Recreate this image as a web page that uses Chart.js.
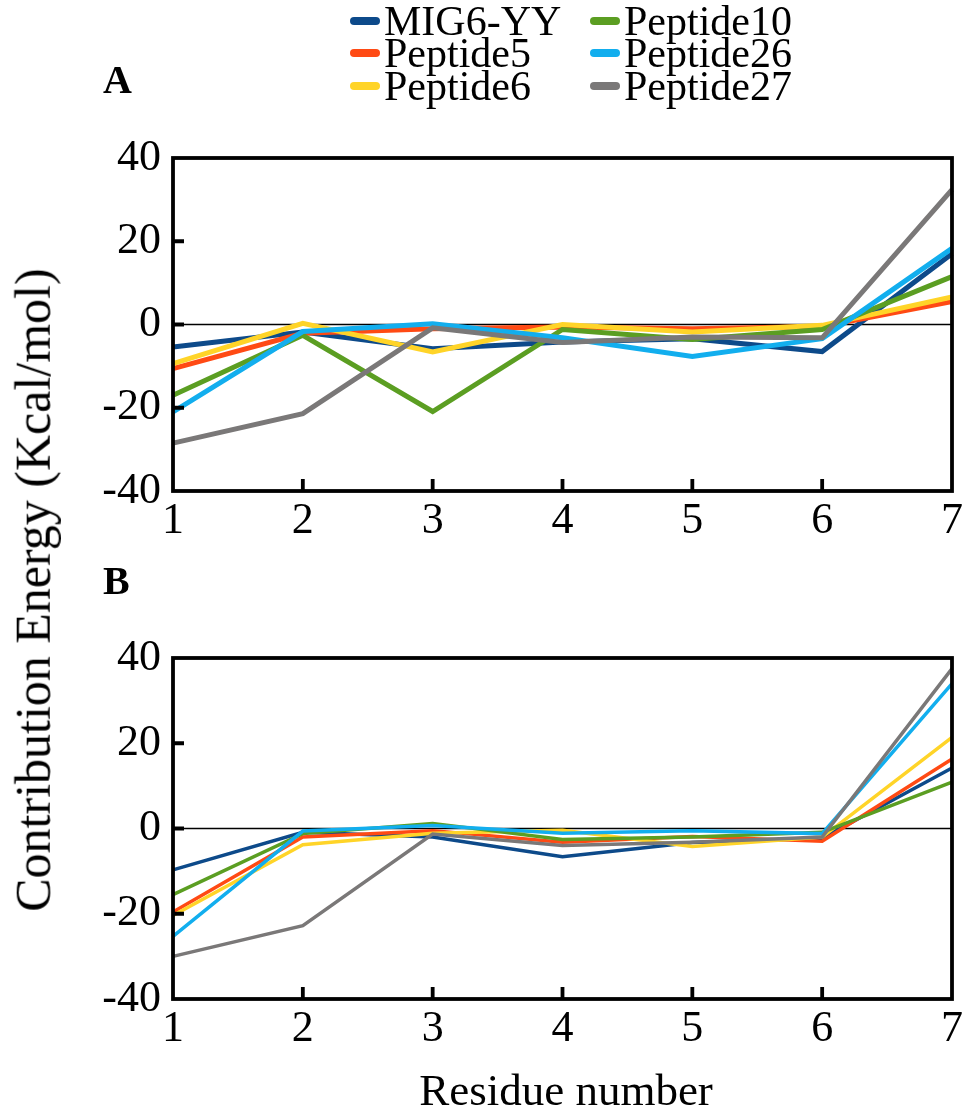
<!DOCTYPE html>
<html>
<head>
<meta charset="utf-8">
<script src="https://cdn.jsdelivr.net/npm/chart.js@4/dist/chart.umd.min.js"></script>
<style>
  html,body{margin:0;padding:0;background:#fff;}
  #wrap{position:relative;width:967px;height:1114px;overflow:hidden;font-family:"Liberation Serif","Times New Roman",serif;color:#000;}
  canvas{position:absolute;left:0;}
  .leg{position:absolute;font-size:42px;line-height:42px;white-space:nowrap;display:flex;align-items:center;}
  .leg span.mk{display:inline-block;width:30px;height:8px;border-radius:4px;margin-right:4px;}
  .panel{position:absolute;font-size:40px;font-weight:bold;line-height:40px;}
  #ytitle{position:absolute;font-size:50px;line-height:50px;white-space:nowrap;transform-origin:center center;}
  #xtitle{position:absolute;font-size:45px;line-height:45px;white-space:nowrap;}
</style>
</head>
<body>
<div id="wrap">
  <canvas id="cA" width="967" height="560" style="top:0"></canvas>
  <canvas id="cB" width="967" height="614" style="top:500px"></canvas>
  <div class="panel" style="left:103px;top:60px;">A</div>
  <div class="panel" style="left:103px;top:561px;">B</div>
  <div id="legend"></div>
  <div id="ytitle">Contribution Energy (Kcal/mol)</div>
  <div id="xtitle">Residue number</div>
</div>
<script>
// ---- data ----
const categories = ['1','2','3','4','5','6','7'];
const seriesNames = ['MIG6-YY','Peptide5','Peptide6','Peptide10','Peptide26','Peptide27'];
const seriesColors = ['#0D4A8A','#FF4A14','#FFD428','#5B9E22','#12AEEE','#7A7878'];
const yTickMin = -40, yTickMax = 40, yTickStep = 10, yLabelStep = 20;

// Panel A
const mig6A   = [-5.4, -1.8, -5.8, -4.2, -3.4, -6.5, 17.0];
const pep5A   = [-10.6, -2.1, -1.0, -0.6, -1.0, -0.5, 5.5];
const pep6A   = [-9.4, 0.3, -6.6, 0.0, -1.8, -0.2, 6.6];
const pep10A  = [-17.0, -2.6, -20.9, -1.2, -3.6, -1.2, 11.5];
const pep26A  = [-21.0, -1.7, 0.2, -3.2, -7.7, -3.4, 18.3];
const pep27A  = [-28.5, -21.4, -0.8, -4.3, -3.0, -3.2, 32.4];

// Panel B
const mig6B   = [-9.7, -0.9, -2.0, -6.6, -3.3, -2.3, 14.2];
const pep5B   = [-19.6, -2.0, -0.5, -3.2, -1.9, -3.0, 16.3];
const pep6B   = [-20.4, -3.8, -1.1, -0.4, -4.2, -2.0, 21.4];
const pep10B  = [-15.5, -1.2, 1.2, -2.6, -2.0, -0.9, 10.9];
const pep26B  = [-25.3, -0.6, 0.7, -1.1, -0.5, -1.2, 34.0];
const pep27B  = [-30.0, -22.8, -1.3, -4.0, -3.2, -2.0, 37.5];

const seriesA = [mig6A, pep5A, pep6A, pep10A, pep26A, pep27A];
const seriesB = [mig6B, pep5B, pep6B, pep10B, pep26B, pep27B];

// ---- legend (HTML) ----
const legendPos = [[350,0],[350,32],[350,65],[590,0],[590,32],[590,65]];
const legEl = document.getElementById('legend');
seriesNames.forEach((n,i)=>{
  const d = document.createElement('div');
  d.className='leg';
  d.style.left = legendPos[i][0]+'px';
  d.style.top = legendPos[i][1]+'px';
  d.innerHTML = '<span class="mk" style="background:'+seriesColors[i]+'"></span>'+n;
  legEl.appendChild(d);
});
const yt = document.getElementById('ytitle');
yt.style.left = '0px'; yt.style.top='0px';
const r = yt.getBoundingClientRect();
yt.style.left = (33 - r.width/2)+'px';
yt.style.top = (590 - r.height/2)+'px';
yt.style.transform = 'rotate(-90deg)';
const xt = document.getElementById('xtitle');
const rx = xt.getBoundingClientRect();
xt.style.left = (566 - rx.width/2)+'px';
xt.style.top = (1090 - rx.height/2)+'px';

// ---- frame plugin ----
const framePlugin = {
  id:'frame',
  beforeDatasetsDraw(chart){
    const ctx = chart.ctx, ca = chart.chartArea, y0 = chart.scales.y.getPixelForValue(0);
    ctx.save(); ctx.strokeStyle='#000'; ctx.lineWidth=1.6;
    ctx.beginPath(); ctx.moveTo(ca.left,y0); ctx.lineTo(ca.right,y0); ctx.stroke(); ctx.restore();
  },
  afterDatasetsDraw(chart){
    const ctx = chart.ctx, ca = chart.chartArea, ys = chart.scales.y, xs = chart.scales.x;
    ctx.save(); ctx.strokeStyle='#000'; ctx.lineWidth=3.8; ctx.lineCap='butt';
    ctx.strokeRect(ca.left, ca.top, ca.right-ca.left, ca.bottom-ca.top);
    ctx.beginPath();
    ys.ticks.forEach(t=>{
      if (t.value<=yTickMin || t.value>=yTickMax) return;
      const y = ys.getPixelForValue(t.value);
      ctx.moveTo(ca.left, y); ctx.lineTo(ca.left+11, y);
    });
    xs.ticks.forEach((t,i)=>{
      if (i===0 || i===xs.ticks.length-1) return;
      const x = xs.getPixelForValue(i);
      ctx.moveTo(x, ca.bottom); ctx.lineTo(x, ca.bottom-12);
    });
    ctx.stroke(); ctx.restore();
  }
};

function makeChart(id, series, lineW, canvasH, plotBottom){
  const datasets = series.map((s,i)=>({
    label: seriesNames[i], data: s, borderColor: seriesColors[i], backgroundColor: seriesColors[i],
    borderWidth: lineW, pointRadius: 0, tension: 0, fill:false, order: series.length-1-i
  }));
  const tickFont = {family:'"Liberation Serif","Times New Roman",serif', size:44, weight:'normal'};
  return new Chart(document.getElementById(id), {
    type:'line',
    data:{labels: categories, datasets},
    options:{
      responsive:false, animation:false, devicePixelRatio:1,
      layout:{padding:{top:158, right:10, left:0, bottom:0}},
      plugins:{legend:{display:false}, tooltip:{enabled:false}},
      scales:{
        x:{type:'category', offset:false, grid:{display:false, drawTicks:false}, border:{display:false},
           ticks:{color:'#000', font:tickFont, padding:4, maxRotation:0, autoSkip:false},
           afterFit(s){ s.height = canvasH - plotBottom; }},
        y:{min:yTickMin, max:yTickMax, grid:{display:false, drawTicks:false}, border:{display:false},
           ticks:{stepSize:yTickStep, color:'#000', font:tickFont, padding:12,
                  callback:(v)=> (v % yLabelStep === 0) ? String(v) : ''},
           afterFit(s){ s.width = 173; }}
      }
    },
    plugins:[framePlugin]
  });
}
makeChart('cA', seriesA, 5, 560, 491);
makeChart('cB', seriesB, 3.5, 614, 499);
</script>
</body>
</html>
